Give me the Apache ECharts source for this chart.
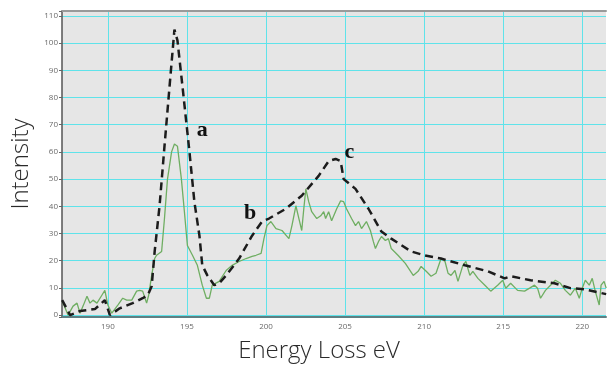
<!DOCTYPE html>
<html>
<head>
<meta charset="utf-8">
<script src="https://cdn.jsdelivr.net/npm/echarts@6/dist/echarts.min.js"></script>
<style>
  html, body { margin: 0; padding: 0; background: #fff; }
  #main { width: 609px; height: 368px; }
</style>
</head>
<body>
<div id="main"></div>
<script>
  // dashed curve (black)
  const dashedEnergy = [187.11, 187.61, 188.24, 189.18, 189.81, 190.13, 190.75, 191.57, 192.20, 192.52,
    192.77, 192.96, 193.27, 193.58, 193.90, 194.21, 194.40, 194.72, 195.16, 195.47,
    195.79, 195.97, 196.29, 196.73, 197.04, 197.48, 198.30, 199.12, 199.75, 200.19,
    201.26, 202.26, 203.33, 203.96, 204.40, 204.72, 204.91, 205.66, 206.48, 207.30,
    207.92, 209.18, 210.06, 211.07, 212.58, 214.03, 215.09, 215.47, 216.73, 218.24,
    219.25, 220.13, 221.51];
  const dashedIntensity = [5.5, 0, 1.5, 2.2, 5.5, 0, 2.5, 4.4, 6.2, 7.3,
    10.6, 23.4, 40.2, 62, 84, 105, 101, 84, 60, 41.7,
    29.2, 18.3, 14.6, 11, 11.7, 14.6, 20.8, 29.2, 34.4, 35.5,
    39.1, 43.9, 51.2, 56.6, 57.4, 56.6, 50, 46.4, 39.1, 30.7,
    28.1, 23.4, 21.9, 20.8, 18.3, 16.1, 13.5, 14.3, 12.8, 11.7,
    9.9, 9.5, 7.7];

  // measured spectrum (green)
  const greenEnergy = [187.11, 187.30, 187.48, 187.80, 188.05, 188.24, 188.43, 188.68, 188.87, 189.06,
    189.31, 189.62, 189.81, 190.00, 190.25, 190.31, 190.63, 190.94, 191.19, 191.51,
    191.82, 192.01, 192.20, 192.45, 192.58, 192.77, 192.96, 193.08, 193.40, 193.58,
    193.77, 194.03, 194.21, 194.40, 194.65, 194.84, 195.03, 195.35, 195.66, 195.97,
    196.23, 196.42, 196.60, 197.04, 197.48, 197.86, 198.30, 198.74, 199.12, 199.37,
    199.69, 199.87, 200.06, 200.31, 200.63, 201.01, 201.45, 201.64, 201.89, 202.08,
    202.26, 202.39, 202.52, 202.70, 202.89, 203.21, 203.46, 203.65, 203.77, 203.96,
    204.15, 204.47, 204.72, 204.91, 205.09, 205.41, 205.66, 205.85, 206.04, 206.35,
    206.60, 206.79, 206.92, 207.11, 207.30, 207.55, 207.74, 207.92, 208.36, 208.81,
    209.31, 209.62, 209.81, 210.13, 210.44, 210.75, 211.07, 211.32, 211.51, 211.70,
    211.95, 212.14, 212.45, 212.64, 212.89, 213.08, 213.40, 213.84, 214.21, 214.65,
    214.97, 215.16, 215.47, 215.91, 216.35, 216.67, 216.98, 217.17, 217.36, 217.67,
    217.99, 218.30, 218.62, 218.93, 219.25, 219.56, 219.81, 220.00, 220.19, 220.44,
    220.63, 220.82, 221.07, 221.19, 221.38, 221.51];
  const greenIntensity = [5.1, 2.6, 0, 3.3, 4.4, 0.7, 3.3, 6.9, 4.4, 5.5,
    4.4, 7.3, 9.1, 3.7, 0.7, 0, 3.7, 6.2, 5.5, 5.5,
    8.8, 9.1, 8.8, 4.4, 7.3, 14.6, 20.8, 22, 23.4, 35.5,
    50, 60, 62.9, 62.1, 50, 38, 25.6, 22, 18.3, 11,
    6.2, 6.2, 11, 12.4, 16.4, 18.3, 19.7, 20.8, 21.6, 22,
    22.7, 28.1, 32.9, 34.4, 31.8, 31.1, 28.1, 32.9, 40.2, 35.5,
    31.1, 39.1, 46.4, 41.7, 38, 35.5, 36.5, 38, 35.5, 38,
    34.7, 39.1, 42, 41.7, 39.1, 35.5, 32.9, 34.4, 31.8, 34.4,
    31.1, 27, 24.5, 27, 28.9, 27.4, 28.1, 24.5, 21.9, 19,
    14.6, 16.1, 17.9, 16.1, 14.3, 15.4, 20.8, 19.7, 15.4, 14.6,
    16.4, 12.4, 18.3, 19.7, 14.6, 16.1, 13.5, 11, 8.8, 11,
    12.8, 9.9, 11.7, 9.1, 8.8, 9.9, 11, 9.9, 6.2, 9.1,
    11, 12.8, 11.7, 9.1, 7.3, 9.9, 6.2, 9.9, 12.8, 11,
    13.5, 8.8, 3.7, 11, 12.4, 9.9];

  // letters placed on the chart
  const markNames = ['a', 'b', 'c'];
  const markEnergy = [195.97, 199.0, 205.28];
  const markIntensity = [68, 37.6, 60];

  const zip = (xs, ys) => xs.map((x, i) => [x, ys[i]]);

  const chart = echarts.init(document.getElementById('main'));
  const tickFont = { color: '#6a6a6a', fontSize: 8, fontFamily: 'Open Sans' };

  chart.setOption({
    animation: false,
    grid: {
      left: 62, right: 0, top: 11, bottom: 49,
      show: true, backgroundColor: '#e6e6e6', borderWidth: 0
    },
    xAxis: [
      {
        type: 'value',
        min: 187.1,
        max: 221.5,
        name: 'Energy Loss eV',
        nameLocation: 'middle',
        nameGap: 22,
        nameTextStyle: { fontSize: 24, color: '#2a2a2a', fontFamily: 'Open Sans', fontWeight: 300, padding: [0, 30, 0, 0] },
        axisLine: { onZero: false, lineStyle: { color: '#5f7f82', width: 2 } },
        axisTick: { show: false },
        axisLabel: Object.assign({ margin: 6, formatter: v => (Math.abs(v % 5) < 1e-6 ? v : '') }, tickFont),
        splitLine: { showMinLine: false, showMaxLine: false, lineStyle: { color: '#5fe3ea', width: 1 } }
      },
      {
        // top frame line only
        type: 'value',
        position: 'top',
        min: 187.1,
        max: 221.5,
        axisLine: { show: true, onZero: false, lineStyle: { color: '#9a9a9a', width: 2 } },
        axisTick: { show: false },
        axisLabel: { show: false },
        splitLine: { show: false }
      }
    ],
    yAxis: {
      type: 'value',
      min: -0.7,
      max: 111.8,
      splitNumber: 11,
      name: 'Intensity',
      nameLocation: 'middle',
      nameGap: 26,
      nameTextStyle: { fontSize: 24, color: '#2a2a2a', fontFamily: 'Open Sans', fontWeight: 300 },
      axisLine: { show: true, onZero: false, lineStyle: { color: '#555', width: 1.5 } },
      axisTick: { show: true, length: 3, lineStyle: { color: '#666' } },
      axisLabel: Object.assign({ margin: 4, formatter: v => (Math.abs(v % 10) < 1e-6 ? v : '') }, tickFont),
      splitLine: { showMinLine: false, showMaxLine: false, lineStyle: { color: '#5fe3ea', width: 1 } }
    },
    series: [
      {
        type: 'line',
        data: zip(greenEnergy, greenIntensity),
        symbol: 'none',
        lineStyle: { color: '#6fae62', width: 1.3 }
      },
      {
        type: 'line',
        data: zip(dashedEnergy, dashedIntensity),
        symbol: 'none',
        lineStyle: { color: '#1c1c1c', width: 2.5, type: [8, 5] }
      },
      {
        type: 'scatter',
        symbolSize: 0,
        itemStyle: { opacity: 1 },
        data: markNames.map((n, i) => ({ name: n, value: [markEnergy[i], markIntensity[i]] })),
        label: {
          show: true,
          position: 'inside',
          formatter: p => p.name,
          fontFamily: 'Liberation Serif',
          fontSize: 22,
          fontWeight: 'bold',
          color: '#111'
        }
      }
    ]
  });
</script>
</body>
</html>
